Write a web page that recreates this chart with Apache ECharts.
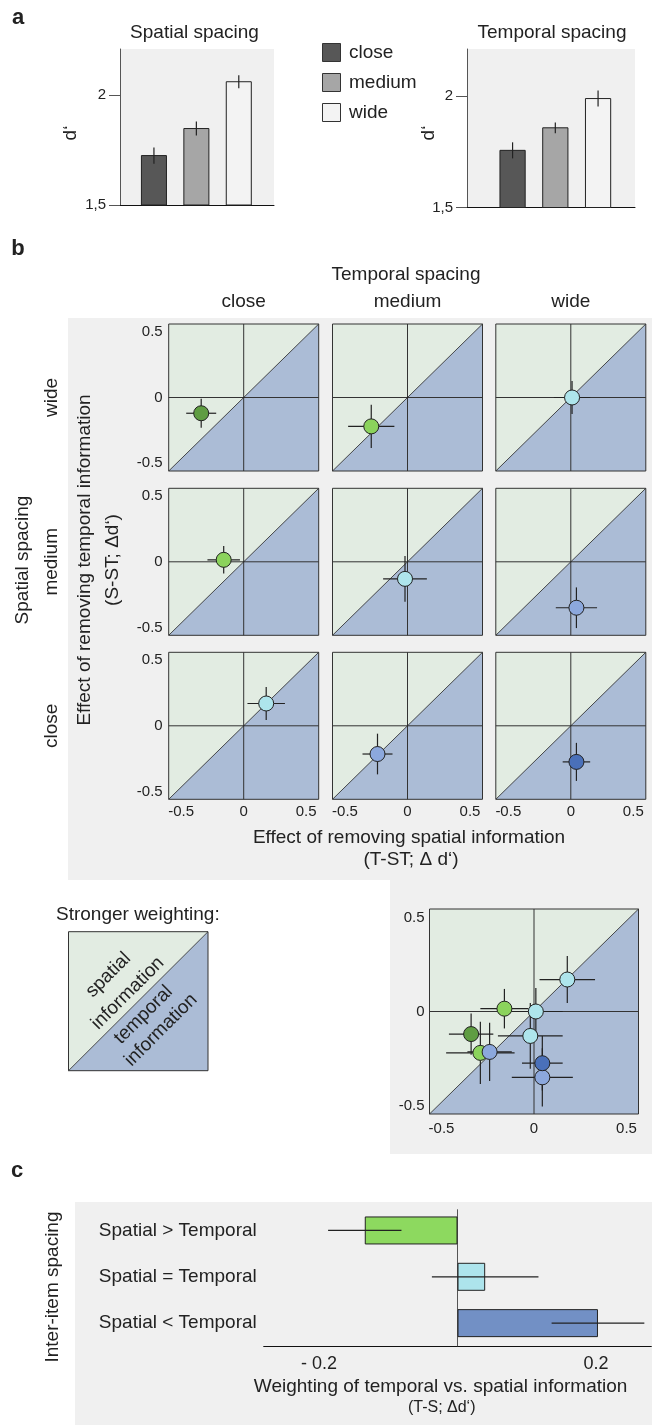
<!DOCTYPE html>
<html><head><meta charset="utf-8">
<script src="https://cdn.jsdelivr.net/npm/echarts@6/dist/echarts.min.js"></script>
<style>html,body{margin:0;padding:0;background:#fff}#c{width:652px;height:1425px}</style>
</head><body><div id="c"></div>
<script>
// ---------- DATA ----------
const barLevels = ['close', 'medium', 'wide'];
const spatialDprime = [1.725, 1.848, 2.061];
const spatialDprimeErr = [0.037, 0.032, 0.030];
const temporalDprime = [1.756, 1.857, 1.988];
const temporalDprimeErr = [0.036, 0.024, 0.036];
const dprimeTicks = [1.5, 2];
const dprimeTickLabels = ['1,5', '2'];

const spacingLevels = ['close', 'medium', 'wide'];
const condSpatial  = ['wide', 'wide', 'wide', 'medium', 'medium', 'medium', 'close', 'close', 'close'];
const condTemporal = ['close', 'medium', 'wide', 'close', 'medium', 'wide', 'close', 'medium', 'wide'];
const effectRemoveSpatial     = [-0.34, -0.29, 0.01, -0.16, -0.02, 0.045, 0.18, -0.24, 0.045];
const effectRemoveSpatialErr  = [0.12, 0.185, 0.145, 0.13, 0.175, 0.165, 0.15, 0.12, 0.11];
const effectRemoveTemporal    = [-0.12, -0.22, 0.0, 0.015, -0.13, -0.35, 0.17, -0.215, -0.275];
const effectRemoveTemporalErr = [0.11, 0.165, 0.125, 0.105, 0.175, 0.155, 0.125, 0.155, 0.145];
const effectTicks = [-0.5, 0, 0.5];
const effectTickLabels = ['-0.5', '0', '0.5'];

const weightCategories = ['Spatial > Temporal', 'Spatial = Temporal', 'Spatial < Temporal'];
const weightValues = [-0.134, 0.040, 0.203];
const weightErr = [0.053, 0.077, 0.067];
const weightTicks = [-0.2, 0.2];
const weightTickLabels = ['- 0.2', '0.2'];

// ---------- STYLE ----------
const FONT = '"Liberation Sans", Arial, sans-serif';
const TXT = '#222';
const BG = '#f0f0f0';
const TITLE = 19;
const barColors = ['#575757', '#a6a6a6', '#f3f3f3'];
const levelColor = { '2': '#5f9d42', '1': '#8bd35c', '0': '#aee5ec', '-1': '#8ca8dd', '-2': '#4a70b9' };
const weightColors = ['#8dd95f', '#ade4ec', '#7290c5'];
const GREEN_BG = '#e2ece2', BLUE_BG = '#abbcd6';

function condColor(i) {
  return levelColor[String(spacingLevels.indexOf(condSpatial[i]) - spacingLevels.indexOf(condTemporal[i]))];
}
function tickFmt(ticks, labels) {
  return function (v) { const k = ticks.findIndex(t => Math.abs(t - v) < 1e-9); return k >= 0 ? labels[k] : ''; };
}

const grids = [], xAxes = [], yAxes = [], series = [];
function addGrid(g, x, y) {
  grids.push(g);
  const gi = grids.length - 1;
  xAxes.push(Object.assign({ gridIndex: gi }, x));
  yAxes.push(Object.assign({ gridIndex: gi }, y));
  return gi;
}
const hidden = { show: false };

// ---------- PANEL a ----------
function barPanel(left, top, width, height, xmax, offset, vals, errs) {
  const gi = addGrid(
    { left, top, width, height, show: true, backgroundColor: BG, borderWidth: 0 },
    { type: 'value', min: 0, max: xmax, axisLine: { show: true, onZero: false, lineStyle: { color: '#111', width: 1 } },
      axisTick: hidden, axisLabel: hidden, splitLine: hidden },
    { type: 'value', min: 1.5, max: 2.21, axisLine: { show: true, lineStyle: { color: '#555', width: 1 } },
      axisTick: { show: true, length: 11, customValues: dprimeTicks, lineStyle: { color: '#555' } },
      axisLabel: { customValues: dprimeTicks, formatter: tickFmt(dprimeTicks, dprimeTickLabels), fontSize: 15, color: TXT, margin: 14, fontFamily: FONT },
      splitLine: hidden }
  );
  series.push({
    type: 'custom', xAxisIndex: gi, yAxisIndex: gi, silent: true,
    data: vals.map((v, i) => [i, v, errs[i]]),
    renderItem: function (p, api) {
      const x = offset + api.value(0), v = api.value(1), e = api.value(2);
      const a = api.coord([x - 0.295, 1.5]), b = api.coord([x + 0.295, v]);
      const e0 = api.coord([x, v - e]), e1 = api.coord([x, v + e]);
      return { type: 'group', children: [
        { type: 'rect', shape: { x: a[0], y: b[1], width: b[0] - a[0], height: a[1] - b[1] },
          style: { fill: barColors[p.dataIndex], stroke: '#222', lineWidth: 1 } },
        { type: 'line', shape: { x1: e0[0], y1: e0[1], x2: e1[0], y2: e1[1] }, style: { stroke: '#222', lineWidth: 1.2 } }
      ] };
    }
  });
}
barPanel(120, 49, 154, 156, 3.63, 0.8, spatialDprime, spatialDprimeErr);
barPanel(467, 49, 168, 158.5, 3.93, 1.066, temporalDprime, temporalDprimeErr);

// ---------- PANEL b ----------
function decorSeries(gi, xr, yr) {
  return {
    type: 'custom', xAxisIndex: gi, yAxisIndex: gi, silent: true, z: 1, data: [[0, 0]],
    renderItem: function (p, api) {
      const bl = api.coord([-xr, -yr]), tr = api.coord([xr, yr]), o = api.coord([0, 0]);
      const x0 = bl[0], x1 = tr[0], y0 = tr[1], y1 = bl[1];
      return { type: 'group', children: [
        { type: 'polygon', shape: { points: [[x0, y0], [x1, y0], [x0, y1]] }, style: { fill: GREEN_BG } },
        { type: 'polygon', shape: { points: [[x1, y0], [x1, y1], [x0, y1]] }, style: { fill: BLUE_BG } },
        { type: 'line', shape: { x1: x0, y1: o[1], x2: x1, y2: o[1] }, style: { stroke: '#333', lineWidth: 1 } },
        { type: 'line', shape: { x1: o[0], y1: y0, x2: o[0], y2: y1 }, style: { stroke: '#333', lineWidth: 1 } },
        { type: 'line', shape: { x1: x0, y1: y1, x2: x1, y2: y0 }, style: { stroke: '#222', lineWidth: 0.8 } },
        { type: 'rect', shape: { x: x0, y: y0, width: x1 - x0, height: y1 - y0 }, style: { fill: 'transparent', stroke: '#333', lineWidth: 1 } }
      ] };
    }
  };
}
function errSeries(gi, idxs) {
  return {
    type: 'custom', xAxisIndex: gi, yAxisIndex: gi, silent: true, z: 3,
    data: idxs.map(i => [effectRemoveSpatial[i], effectRemoveTemporal[i], effectRemoveSpatialErr[i], effectRemoveTemporalErr[i]]),
    renderItem: function (p, api) {
      const x = api.value(0), y = api.value(1), ex = api.value(2), ey = api.value(3);
      const a = api.coord([x - ex, y]), b = api.coord([x + ex, y]), c = api.coord([x, y - ey]), d = api.coord([x, y + ey]);
      return { type: 'group', children: [
        { type: 'line', shape: { x1: a[0], y1: a[1], x2: b[0], y2: b[1] }, style: { stroke: '#222', lineWidth: 1.2 } },
        { type: 'line', shape: { x1: c[0], y1: c[1], x2: d[0], y2: d[1] }, style: { stroke: '#222', lineWidth: 1.2 } }
      ] };
    }
  };
}
function pointSeries(gi, idxs) {
  return {
    type: 'scatter', xAxisIndex: gi, yAxisIndex: gi, silent: true, z: 4, symbolSize: 15,
    data: idxs.map(i => ({ value: [effectRemoveSpatial[i], effectRemoveTemporal[i]],
      itemStyle: { color: condColor(i), borderColor: '#222', borderWidth: 1, opacity: 1 } }))
  };
}
function effectAxis(r, showLabel, margin) {
  return { type: 'value', min: -r, max: r, axisLine: hidden, axisTick: hidden, splitLine: hidden,
    axisLabel: { show: showLabel, customValues: effectTicks, formatter: tickFmt(effectTicks, effectTickLabels),
      fontSize: 15, color: TXT, margin: margin, fontFamily: FONT } };
}
const colLeft = [168.7, 332.5, 495.8];
const rowTop = [324, 488.3, 652.3];
const XR = 0.6, YR = 0.56;
for (let i = 0; i < condSpatial.length; i++) {
  const row = 2 - spacingLevels.indexOf(condSpatial[i]);
  const col = spacingLevels.indexOf(condTemporal[i]);
  const gi = addGrid({ left: colLeft[col], top: rowTop[row], width: 150, height: 147 },
    effectAxis(XR, row === 2, 5), effectAxis(YR, col === 0, 6));
  series.push(decorSeries(gi, XR, YR), errSeries(gi, [i]), pointSeries(gi, [i]));
}
// combined panel
const allIdx = condSpatial.map((_, i) => i);
const giAll = addGrid({ left: 429.5, top: 909, width: 209, height: 205 },
  effectAxis(0.565, true, 7), effectAxis(0.545, true, 5));
series.push(decorSeries(giAll, 0.565, 0.545), errSeries(giAll, allIdx), pointSeries(giAll, allIdx));

// ---------- PANEL c ----------
const giC = addGrid({ left: 263.75, top: 1207.3, width: 387.5, height: 139 },
  { type: 'value', min: -0.28, max: 0.28, axisLine: { show: true, onZero: false, lineStyle: { color: '#111', width: 1.2 } },
    axisTick: hidden, splitLine: hidden,
    axisLabel: { customValues: weightTicks, formatter: tickFmt(weightTicks, weightTickLabels), fontSize: 18, color: TXT, margin: 9, fontFamily: FONT } },
  { type: 'category', inverse: true, data: weightCategories, axisLine: hidden, axisTick: hidden, splitLine: hidden,
    axisLabel: { fontSize: TITLE, color: TXT, margin: 7, fontFamily: FONT } }
);
series.push({
  type: 'custom', xAxisIndex: giC, yAxisIndex: giC, silent: true, z: 1, data: [[0, 0]],
  renderItem: function (p, api) {
    const o = api.coord([0, 0]); const cs = p.coordSys;
    return { type: 'line', shape: { x1: o[0], y1: cs.y + 2, x2: o[0], y2: cs.y + cs.height }, style: { stroke: '#555', lineWidth: 1 } };
  }
});
series.push({
  type: 'bar', xAxisIndex: giC, yAxisIndex: giC, silent: true, z: 2, barWidth: 28,
  data: weightValues.map((v, i) => ({ value: v, itemStyle: { color: weightColors[i], borderColor: '#222', borderWidth: 1 } }))
});
series.push({
  type: 'custom', xAxisIndex: giC, yAxisIndex: giC, silent: true, z: 3,
  data: weightValues.map((v, i) => [v, i, weightErr[i]]),
  renderItem: function (p, api) {
    const v = api.value(0), c = api.value(1), e = api.value(2);
    const a = api.coord([v - e, c]), b = api.coord([v + e, c]);
    return { type: 'line', shape: { x1: a[0], y1: a[1], x2: b[0], y2: b[1] }, style: { stroke: '#222', lineWidth: 1.2 } };
  }
});

// ---------- GRAPHICS / TEXT ----------
function txt(text, x, y, opt) {
  opt = opt || {};
  return { type: 'text', x: x, y: y, rotation: opt.rot || 0, z: 20,
    style: { text: text, fill: TXT, font: (opt.weight || 'normal') + ' ' + (opt.size || TITLE) + 'px ' + FONT,
      textAlign: opt.align || 'center', textVerticalAlign: 'middle' } };
}
const R90 = Math.PI / 2, R45 = Math.PI / 4;
const g = [
  { type: 'rect', z: -10, shape: { x: 68, y: 318, width: 584, height: 562 }, style: { fill: BG } },
  { type: 'rect', z: -10, shape: { x: 390, y: 880, width: 262, height: 274 }, style: { fill: BG } },
  { type: 'rect', z: -10, shape: { x: 75, y: 1202, width: 577, height: 223 }, style: { fill: BG } },
  txt('a', 18, 18, { weight: 'bold', size: 22 }),
  txt('b', 18, 249, { weight: 'bold', size: 22 }),
  txt('c', 17, 1171, { weight: 'bold', size: 22 }),
  txt('Spatial spacing', 194.5, 33),
  txt('Temporal spacing', 552, 33),
  txt('d\u2018', 71, 133, { rot: R90 }),
  txt('d\u2018', 429, 133, { rot: R90 }),
  txt('Temporal spacing', 406, 275),
  txt('Effect of removing temporal information', 85, 560, { rot: R90 }),
  txt('(S-ST; \u0394d\u2018)', 112.5, 560, { rot: R90 }),
  txt('Spatial spacing', 23, 560, { rot: R90 }),
  txt('Effect of removing spatial information', 409, 838),
  txt('(T-ST; \u0394 d\u2018)', 411, 860),
  txt('Stronger weighting:', 56, 915, { align: 'left' }),
  { type: 'polygon', z: 5, shape: { points: [[68.5, 931.7], [208, 931.7], [68.5, 1070.7]] }, style: { fill: GREEN_BG } },
  { type: 'polygon', z: 5, shape: { points: [[208, 931.7], [208, 1070.7], [68.5, 1070.7]] }, style: { fill: BLUE_BG } },
  { type: 'line', z: 6, shape: { x1: 68.5, y1: 1070.7, x2: 208, y2: 931.7 }, style: { stroke: '#222', lineWidth: 0.8 } },
  { type: 'rect', z: 6, shape: { x: 68.5, y: 931.7, width: 139.5, height: 139 }, style: { fill: 'transparent', stroke: '#333', lineWidth: 1 } },
  txt('spatial', 108.4, 975, { rot: R45 }),
  txt('information', 127.9, 993.3, { rot: R45 }),
  txt('temporal', 143.5, 1015, { rot: R45 }),
  txt('information', 161, 1030, { rot: R45 }),
  txt('Inter-item spacing', 53, 1287, { rot: R90 }),
  txt('Weighting of temporal vs. spatial information', 440.6, 1387),
  txt('(T-S; \u0394d\u2018)', 441.7, 1408, { size: 16 })
];
barLevels.forEach((lv, i) => {
  g.push({ type: 'rect', z: 6, shape: { x: 322.5, y: 43.5 + 30 * i, width: 18, height: 18 }, style: { fill: barColors[i], stroke: '#333', lineWidth: 1 } });
  g.push(txt(lv, 349, 53 + 30 * i, { align: 'left' }));
});
spacingLevels.forEach((lv, k) => {
  g.push(txt(lv, colLeft[k] + 75, 302));
  g.push(txt(lv, 52, rowTop[2 - k] + 73.5, { rot: R90 }));
});

const chart = echarts.init(document.getElementById('c'), null, { renderer: 'canvas', width: 652, height: 1425 });
chart.setOption({
  animation: false,
  textStyle: { fontFamily: FONT },
  grid: grids, xAxis: xAxes, yAxis: yAxes, series: series,
  graphic: { elements: g }
});
</script></body></html>
